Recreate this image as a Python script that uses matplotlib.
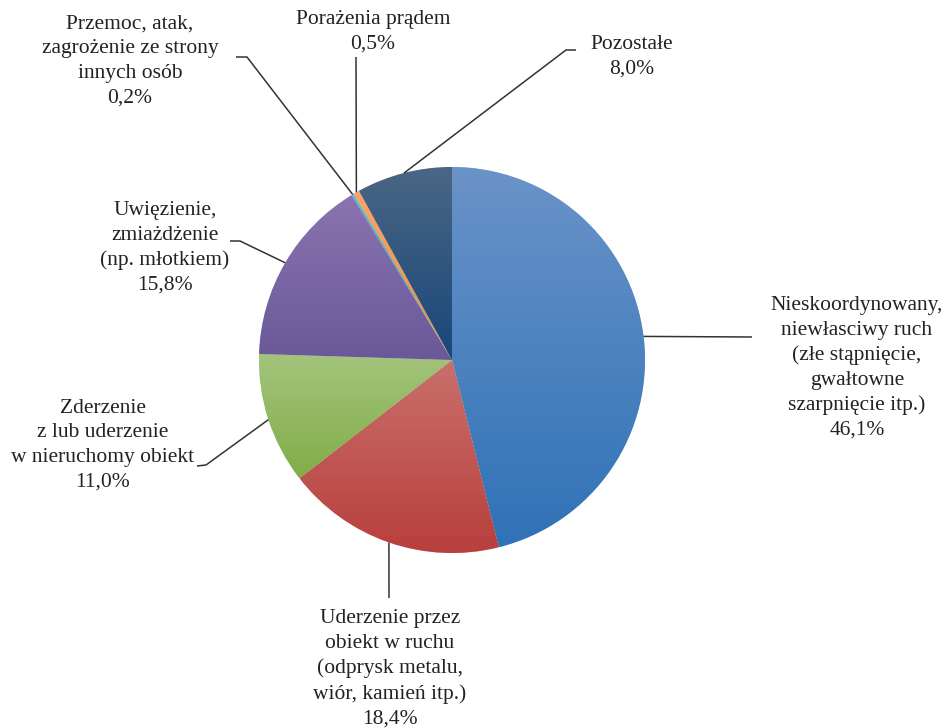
import numpy as np
import matplotlib.pyplot as plt
from matplotlib.colors import LinearSegmentedColormap

plt.rcParams['font.family'] = ['Liberation Serif', 'DejaVu Serif']

# data
labels = [
    'Nieskoordynowany,\nniewłasciwy ruch\n(złe stąpnięcie,\ngwałtowne\nszarpnięcie itp.)',
    'Uderzenie przez\nobiekt w ruchu\n(odprysk metalu,\nwiór, kamień itp.)',
    'Zderzenie\nz lub uderzenie\nw nieruchomy obiekt',
    'Uwięzienie,\nzmiażdżenie\n(np. młotkiem)',
    'Przemoc, atak,\nzagrożenie ze strony\ninnych osób',
    'Porażenia prądem',
    'Pozostałe',
]
values = [46.1, 18.4, 11.0, 15.8, 0.2, 0.5, 8.0]

# gradient colours (top, bottom) for each slice
top_colors = ['#6a93c8', '#c9706c', '#a3c47c', '#8a74b0', '#5fb8cf', '#f9a66a', '#4b6684']
bot_colors = ['#2f72b7', '#b83f3d', '#82ad48', '#6a5898', '#3a9fbb', '#f0883c', '#17477a']

W, H = 946, 728
fig = plt.figure(figsize=(W / 100, H / 100), dpi=100)
ax = fig.add_axes([0, 0, 1, 1])

# pie centre / radius in pixels (y measured from the top of the image)
cx, cy, r = 452, 360, 193
cyu = H - cy

wedges, _ = ax.pie(values, startangle=90, counterclock=False, center=(cx, cyu),
                   radius=r, colors=bot_colors, frame=True,
                   wedgeprops=dict(edgecolor='white', linewidth=0.4))
ax.set_xlim(0, W)
ax.set_ylim(0, H)
ax.axis('off')

for w, c1, c2 in zip(wedges, top_colors, bot_colors):
    bb = w.get_path().get_extents(w.get_patch_transform())
    cmap = LinearSegmentedColormap.from_list('g', [c1, c2])
    grad = np.linspace(0, 1, 256).reshape(-1, 1)
    im = ax.imshow(grad, cmap=cmap, aspect='auto', origin='upper',
                   extent=(bb.x0, bb.x1, bb.y0, bb.y1), zorder=2,
                   interpolation='bilinear')
    im.set_clip_path(w)
ax.set_xlim(0, W)
ax.set_ylim(0, H)

# anchor points on the rim at each slice's mid angle
cum = np.cumsum([0] + values)
mids = 90 - 360 * (cum[:-1] + np.array(values) / 2) / 100.0
anchors = [(cx + r * np.cos(np.radians(a)), cyu + r * np.sin(np.radians(a))) for a in mids]

# label positions and leader elbows (pixels from top-left)
text_pos = [(857, 368), (390, 669), (103, 445), (165, 248), (130, 61), (373, 32), (632, 57)]
leaders = [
    [(752, 337)],
    [(389, 598)],
    [(197, 466), (206, 465)],
    [(230, 241), (240, 241)],
    [(236, 57), (247, 57)],
    [(356, 57)],
    [(576, 50), (566, 50)],
]

for lab, v, (tx, ty), pts, (axp, ayp) in zip(labels, values, text_pos, leaders, anchors):
    pct = f'{v:.1f}%'.replace('.', ',')
    ax.text(tx, H - ty, f'{lab}\n{pct}', ha='center', va='center',
            fontsize=15.5, linespacing=1.4, color='#222222', zorder=5)
    xs = [p[0] for p in pts] + [axp]
    ys = [H - p[1] for p in pts] + [ayp]
    ax.plot(xs, ys, color='#333333', lw=1.1, zorder=4, solid_capstyle='butt')

fig.savefig('out.png', dpi=100)
